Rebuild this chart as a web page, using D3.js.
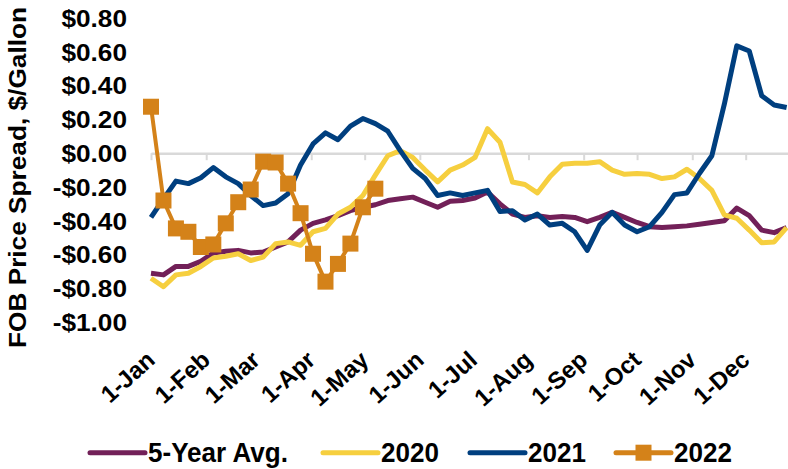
<!DOCTYPE html>
<html><head><meta charset="utf-8">
<script src="https://cdn.jsdelivr.net/npm/d3@7"></script>
<style>
body{margin:0;background:#fff;}
svg{display:block;font-family:"Liberation Sans",Arial,sans-serif;font-weight:bold;}
</style></head><body>
<svg id="c" width="788" height="469"></svg>
<script>
// ---------- data ----------
const tickLabels = ["1-Jan","1-Feb","1-Mar","1-Apr","1-May","1-Jun","1-Jul","1-Aug","1-Sep","1-Oct","1-Nov","1-Dec"];
const yTicks = [0.8,0.6,0.4,0.2,0.0,-0.2,-0.4,-0.6,-0.8,-1.0];
const seriesNames = ["5-Year Avg.","2020","2021","2022"];
const fiveYearAvg = [-0.71,-0.72,-0.67,-0.67,-0.64,-0.59,-0.58,-0.575,-0.59,-0.585,-0.555,-0.525,-0.455,-0.415,-0.395,-0.37,-0.34,-0.32,-0.305,-0.28,-0.27,-0.26,-0.29,-0.32,-0.285,-0.28,-0.265,-0.23,-0.30,-0.36,-0.38,-0.37,-0.38,-0.375,-0.38,-0.405,-0.38,-0.35,-0.38,-0.41,-0.435,-0.44,-0.435,-0.43,-0.42,-0.41,-0.40,-0.325,-0.37,-0.455,-0.47,-0.44];
const values2020 = [-0.74,-0.79,-0.72,-0.71,-0.67,-0.62,-0.61,-0.595,-0.635,-0.615,-0.535,-0.525,-0.545,-0.465,-0.445,-0.36,-0.32,-0.25,-0.13,-0.015,0.015,-0.025,-0.10,-0.17,-0.10,-0.07,-0.025,0.145,0.065,-0.17,-0.185,-0.235,-0.14,-0.065,-0.06,-0.06,-0.05,-0.10,-0.125,-0.12,-0.125,-0.15,-0.14,-0.095,-0.15,-0.22,-0.365,-0.385,-0.455,-0.53,-0.525,-0.44];
const values2021 = [-0.38,-0.27,-0.165,-0.18,-0.145,-0.085,-0.14,-0.18,-0.25,-0.31,-0.295,-0.24,-0.07,0.055,0.12,0.08,0.16,0.205,0.175,0.13,0.015,-0.09,-0.15,-0.25,-0.235,-0.25,-0.235,-0.22,-0.345,-0.34,-0.395,-0.36,-0.425,-0.415,-0.465,-0.575,-0.425,-0.35,-0.425,-0.465,-0.435,-0.35,-0.245,-0.235,-0.12,-0.015,0.29,0.635,0.605,0.34,0.285,0.27];
const values2022 = [0.275,-0.28,-0.445,-0.465,-0.555,-0.54,-0.415,-0.29,-0.215,-0.05,-0.055,-0.18,-0.355,-0.595,-0.76,-0.655,-0.535,-0.32,-0.21];

const colors = ["#722058","#F6CF3F","#003F7F","#D48219"];
const allSeries = [fiveYearAvg, values2020, values2021, values2022];

// ---------- scales ----------
const startDate = new Date(2022,0,1);
const dateOf = i => d3.timeDay.offset(startDate, 7*i);
const monthDates = tickLabels.map((_,m) => new Date(2022,m,1));
const x = d3.scaleTime().domain([startDate, new Date(2023,0,1)]).range([151, 151 + 365*1.7805]);
const y = d3.scaleLinear().domain([-1,0.8]).range([322.2,18]);

const svg = d3.select("#c");

// zero line with month ticks
const zeroAxis = svg.append("g").attr("transform",`translate(0,${y(0)})`)
  .call(d3.axisBottom(x).tickValues(monthDates).tickSize(7).tickSizeOuter(0).tickFormat(""));
zeroAxis.select(".domain").attr("stroke","#D9D9D9").attr("stroke-width",2.5);
zeroAxis.selectAll(".tick line").attr("stroke","#D9D9D9").attr("stroke-width",2);

// x labels
const lab = svg.append("g").attr("transform","translate(0,362)")
  .call(d3.axisBottom(x).tickValues(monthDates).tickSize(0).tickPadding(0).tickFormat((d,i)=>tickLabels[i]));
lab.attr("font-size",null).attr("font-family",null);
lab.select(".domain").remove();
lab.selectAll("text").attr("x",0).attr("y",0).attr("dy",0)
  .attr("text-anchor","end").attr("transform","translate(5,0) rotate(-42)")
  .attr("font-size",24).attr("font-weight","bold").attr("fill","#000");

// y axis labels
const yAx = svg.append("g").attr("transform","translate(127,0)")
  .call(d3.axisLeft(y).tickValues(yTicks).tickSize(0).tickPadding(0)
    .tickFormat(d => (d < 0 ? "-" : "") + "$" + Math.abs(d).toFixed(2)));
yAx.attr("font-size",null).attr("font-family",null);
yAx.select(".domain").remove();
yAx.selectAll("text").attr("font-size",23).attr("font-weight","bold").attr("fill","#000")
  .attr("dy","0.36em")
  .each(function(){ const w=this.getComputedTextLength(); d3.select(this).attr("textLength",w*1.14).attr("lengthAdjust","spacingAndGlyphs"); });

// y title
svg.append("text").attr("transform","translate(26,177.5) rotate(-90)")
  .attr("text-anchor","middle").attr("font-size",23).attr("fill","#000")
  .attr("textLength",341).attr("lengthAdjust","spacingAndGlyphs")
  .text("FOB Price Spread, $/Gallon");

// lines
const line = d3.line().x((d,i)=>x(dateOf(i))).y(d=>y(d));
allSeries.forEach((s,k)=>{
  svg.append("path").datum(s).attr("fill","none").attr("stroke",colors[k])
    .attr("stroke-width", k===3 ? 4 : 5).attr("stroke-linejoin","round").attr("d",line);
});
// 2022 markers
svg.append("g").selectAll("rect").data(values2022).join("rect")
  .attr("x",(d,i)=>x(dateOf(i))-8).attr("y",d=>y(d)-8)
  .attr("width",16).attr("height",16).attr("fill",colors[3]);

// legend
const legX = [90, 323, 470, 616];
seriesNames.forEach((n,k)=>{
  const g = svg.append("g");
  g.append("line").attr("x1",legX[k]).attr("x2",legX[k]+55).attr("y1",452.7).attr("y2",452.7)
    .attr("stroke",colors[k]).attr("stroke-width",5).attr("stroke-linecap","round");
  if(k===3) g.append("rect").attr("x",legX[k]+27.5-8).attr("y",452.7-8).attr("width",16).attr("height",16).attr("fill",colors[k]);
  const t = g.append("text").attr("x",legX[k]+58).attr("y",461.7).attr("font-size",28).attr("fill","#000").text(n);
  const w = t.node().getComputedTextLength();
  t.attr("textLength",w*0.93).attr("lengthAdjust","spacingAndGlyphs");
});
</script>
</body></html>
